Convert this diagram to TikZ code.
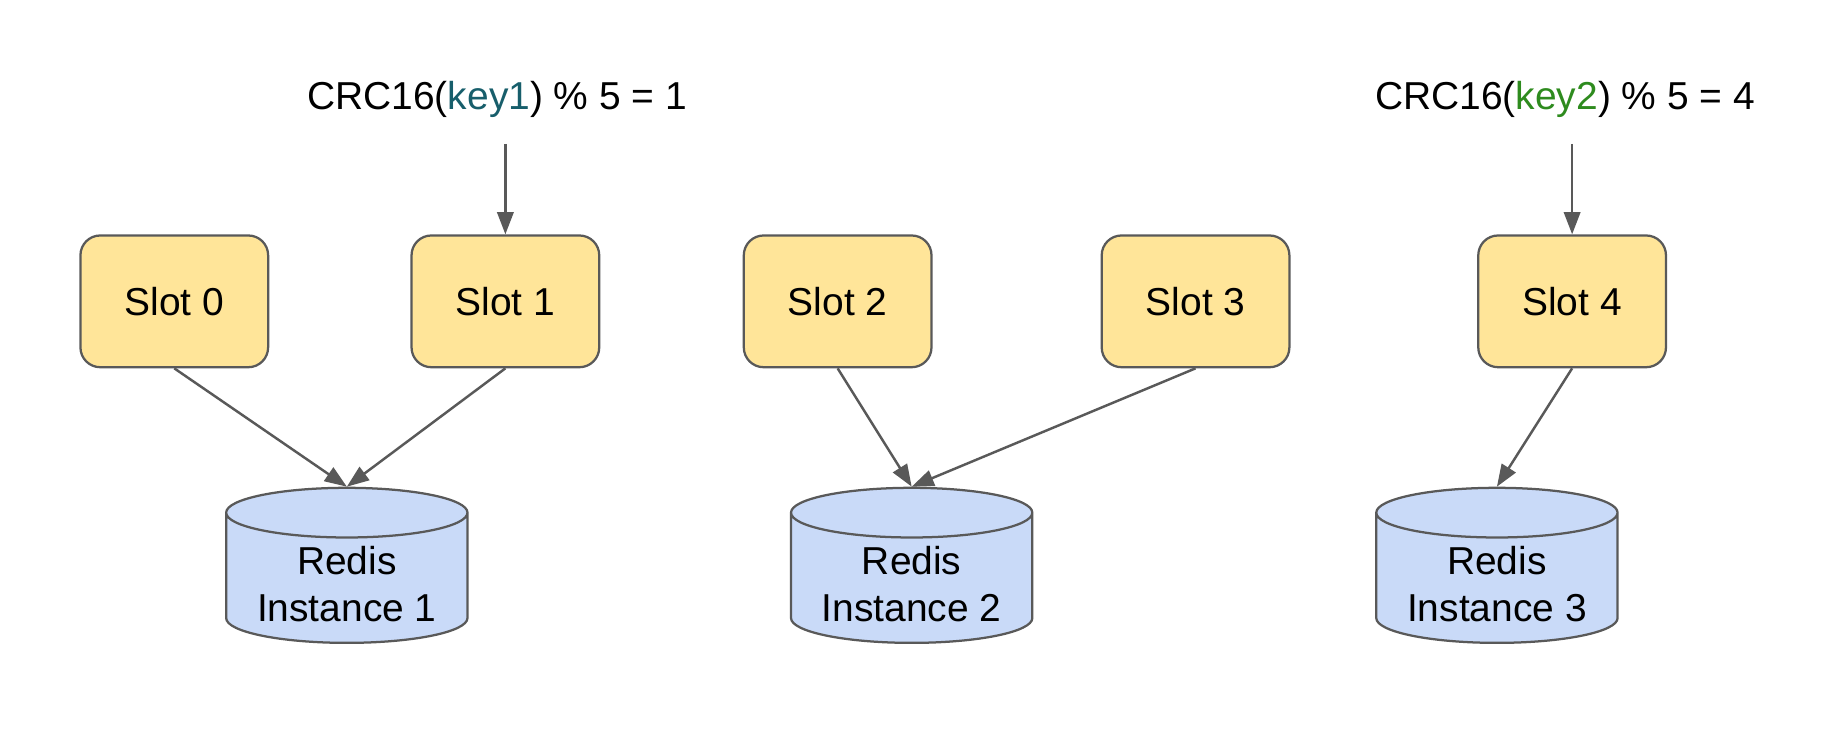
\documentclass[tikz,border=0pt]{standalone}
\usepackage{fontspec}
\setmainfont{Liberation Sans}
\usetikzlibrary{shapes.geometric,arrows.meta}

\definecolor{linegray}{HTML}{595959}
\definecolor{slotyellow}{HTML}{FFE599}
\definecolor{dbblue}{HTML}{C9DAF8}
\definecolor{keyteal}{HTML}{175E6B}
\definecolor{keygreen}{HTML}{2E8B1E}

\begin{document}
\begin{tikzpicture}[font=\fontsize{9.5}{11.5}\selectfont]
\tikzstyle{slot}=[draw=linegray,fill=slotyellow,rounded corners=0.17cm,minimum width=1.61cm,minimum height=1.13cm,line width=0.55pt];
\tikzstyle{db}=[cylinder,shape border rotate=90,aspect=0.24,draw=linegray,fill=dbblue,minimum width=2.07cm,minimum height=1.33cm,inner ysep=1pt,align=center,line width=0.55pt];
\tikzstyle{hash}=[anchor=base];
\tikzstyle{arr}=[draw=linegray,line width=0.6pt,-{Triangle[length=0.19cm,width=0.14cm]}];

\useasboundingbox (0,0) rectangle (15.68,6.36);

\node [hash] (h1) at (4.265,5.42) {CRC16(\textcolor{keyteal}{key1}) \% 5 = 1};
\node [hash] (h2) at (13.425,5.42) {CRC16(\textcolor{keygreen}{key2}) \% 5 = 4};

\node [slot] (s0) at (1.495,3.775) {Slot 0};
\node [slot] (s1) at (4.335,3.775) {Slot 1};
\node [slot] (s2) at (7.185,3.775) {Slot 2};
\node [slot] (s3) at (10.255,3.775) {Slot 3};
\node [slot] (s4) at (13.485,3.775) {Slot 4};

\node [db] (r1) at (2.975,1.35) {Redis\\Instance 1};
\node [db] (r2) at (7.82,1.35) {Redis\\Instance 2};
\node [db] (r3) at (12.84,1.35) {Redis\\Instance 3};

\draw [arr,shorten <=0.1cm] (s1 |- h1.south) -- (s1.north);
\draw [arr,shorten <=0.1cm] (s4 |- h2.south) -- (s4.north);

\draw [arr] (s0.south) -- (r1.north);
\draw [arr] (s1.south) -- (r1.north);
\draw [arr] (s2.south) -- (r2.north);
\draw [arr] (s3.south) -- (r2.north);
\draw [arr] (s4.south) -- (r3.north);
\end{tikzpicture}
\end{document}
